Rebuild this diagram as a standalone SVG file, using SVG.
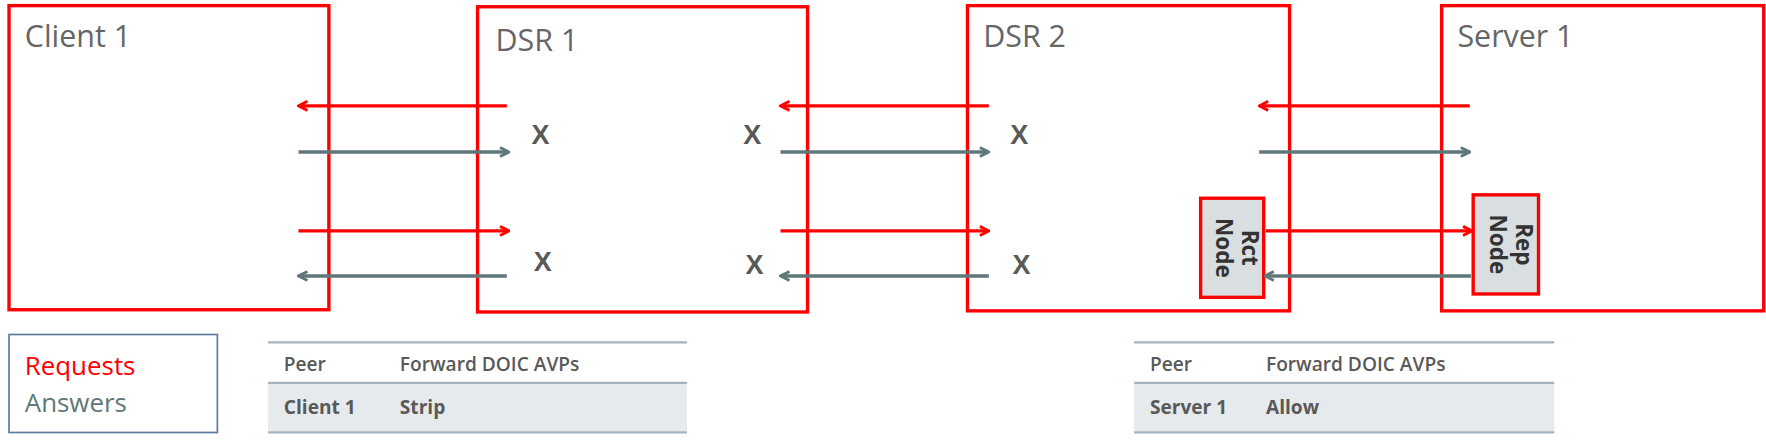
<svg xmlns="http://www.w3.org/2000/svg" width="1766" height="445" viewBox="0 0 1766 445">
<style>
.box{fill:#fff;stroke:#f00;stroke-width:3}
.t{font-family:"Open Sans","Liberation Sans",sans-serif;font-size:27px;fill:#666}
.x{font-family:"Liberation Sans",sans-serif;font-size:24px;font-weight:bold;fill:#595959}
.req{stroke:#f00;stroke-width:3;marker-end:url(#mr)}
.ans{stroke:#5f7778;stroke-width:3;marker-end:url(#ma)}
.nd{fill:#d9dfe1;stroke:#f00;stroke-width:3}
.nt{font-family:"Open Sans","Liberation Sans",sans-serif;font-size:20px;font-weight:bold;fill:#333}
.tb{font-family:"Open Sans","Liberation Sans",sans-serif;font-size:17px;fill:#595959;font-weight:600}
.tbb{font-family:"Open Sans","Liberation Sans",sans-serif;font-size:17px;fill:#595959;font-weight:bold}
.tl{stroke:#a3b4bf;stroke-width:2}
</style>
<defs>
<marker id="mr" markerWidth="10" markerHeight="10" refX="8" refY="5" orient="auto" markerUnits="userSpaceOnUse"><path d="M1,1 L9,5 L1,9" fill="none" stroke="#f00" stroke-width="2.5"/></marker>
<marker id="ma" markerWidth="10" markerHeight="10" refX="8" refY="5" orient="auto" markerUnits="userSpaceOnUse"><path d="M1,1 L9,5 L1,9" fill="none" stroke="#5f7778" stroke-width="2.5"/></marker>
</defs>
<g transform="scale(1.12628)">
<g id="client1"><rect class="box" x="8" y="5" width="284" height="270"/><text class="t" x="22" y="42">Client 1</text></g>
<g id="dsr1"><rect class="box" x="424" y="6" width="293" height="271"/><text class="t" x="440" y="45">DSR 1</text>
<text class="x" x="480" y="128" text-anchor="middle">X</text><text class="x" x="668" y="128" text-anchor="middle">X</text>
<text class="x" x="482" y="241" text-anchor="middle">X</text><text class="x" x="670" y="243" text-anchor="middle">X</text></g>
<g id="dsr2"><rect class="box" x="859" y="5" width="286" height="271"/><text class="t" x="873" y="42">DSR 2</text>
<text class="x" x="905" y="128" text-anchor="middle">X</text><text class="x" x="907" y="243" text-anchor="middle">X</text></g>
<g id="server1"><rect class="box" x="1280" y="5" width="286" height="271"/><text class="t" x="1294" y="42">Server 1</text></g>
<g id="rct"><rect class="nd" x="1066" y="176" width="56" height="88"/>
<text class="nt" transform="translate(1103,220) rotate(90)" text-anchor="middle">Rct</text>
<text class="nt" transform="translate(1080,220) rotate(90)" text-anchor="middle">Node</text></g>
<g id="rep"><rect class="nd" x="1308" y="173" width="58" height="88"/>
<text class="nt" transform="translate(1346,217) rotate(90)" text-anchor="middle">Rep</text>
<text class="nt" transform="translate(1323,217) rotate(90)" text-anchor="middle">Node</text></g>
<g id="connectors">
<line class="req" x1="450" y1="94" x2="266" y2="94"/>
<line class="ans" x1="265" y1="135" x2="451" y2="135"/>
<line class="req" x1="265" y1="205" x2="451" y2="205"/>
<line class="ans" x1="450" y1="245" x2="266" y2="245"/>
<line class="req" x1="878" y1="94" x2="694" y2="94"/>
<line class="ans" x1="693" y1="135" x2="877" y2="135"/>
<line class="req" x1="693" y1="205" x2="877" y2="205"/>
<line class="ans" x1="878" y1="245" x2="694" y2="245"/>
<line class="req" x1="1305" y1="94" x2="1119" y2="94"/>
<line class="ans" x1="1118" y1="135" x2="1304" y2="135"/>
<line class="req" x1="1124" y1="205" x2="1306" y2="205"/>
<line class="ans" x1="1306" y1="245" x2="1124" y2="245"/>
</g>
<g id="legend"><rect x="8" y="297" width="185" height="87" fill="#fff" stroke="#5b7b9a" stroke-width="1.5"/>
<text x="22" y="333" font-family="'Open Sans','Liberation Sans',sans-serif" font-size="23" fill="#f00">Requests</text>
<text x="22" y="366" font-family="'Open Sans','Liberation Sans',sans-serif" font-size="23" fill="#5f7778">Answers</text></g>
<g id="table1"><rect x="238" y="341" width="372" height="42" fill="#e6eaed"/>
<line class="tl" x1="238" y1="304" x2="610" y2="304"/><line class="tl" x1="238" y1="340" x2="610" y2="340"/><line class="tl" x1="238" y1="384" x2="610" y2="384"/>
<text class="tb" x="252" y="329">Peer</text><text class="tb" x="355" y="329">Forward DOIC AVPs</text>
<text class="tbb" x="252" y="368">Client 1</text><text class="tbb" x="355" y="368">Strip</text></g>
<g id="table2"><rect x="1007" y="341" width="373" height="42" fill="#e6eaed"/>
<line class="tl" x1="1007" y1="304" x2="1380" y2="304"/><line class="tl" x1="1007" y1="340" x2="1380" y2="340"/><line class="tl" x1="1007" y1="384" x2="1380" y2="384"/>
<text class="tb" x="1021" y="329">Peer</text><text class="tb" x="1124" y="329">Forward DOIC AVPs</text>
<text class="tbb" x="1021" y="368">Server 1</text><text class="tbb" x="1124" y="368">Allow</text></g>
</g>
</svg>
